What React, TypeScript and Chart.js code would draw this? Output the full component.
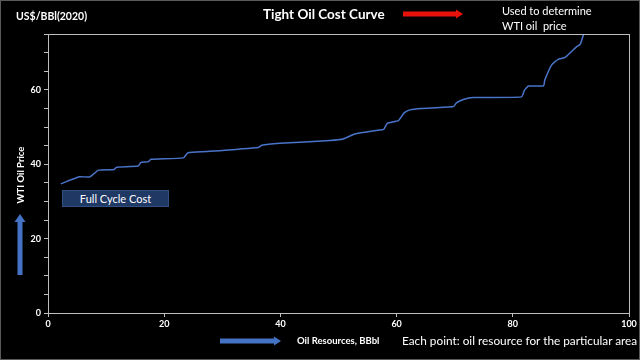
import React, { useEffect, useRef } from "react";
import { Chart, registerables } from "chart.js";

Chart.register(...registerables);

// Oil resources (BBbl) along the cost curve
const resources = [
  2.2, 5.4, 7.2, 8.7, 11.4, 11.8, 15.5, 16.0, 17.3, 17.7, 23.3, 24.1, 27.3,
  36.2, 36.8, 39.9, 48.5, 50.8, 52.8, 57.1, 57.8, 58.4, 60.3, 61.3, 62.3,
  64.3, 69.8, 70.3, 71.5, 73.2, 81.5, 82.0, 82.7, 85.3, 85.5, 86.7, 87.8,
  89.0, 91.0, 91.6, 92.2, 93.0,
];
// Full cycle cost, US$/BBl (2020)
const costs = [
  34.7, 36.6, 36.6, 38.4, 38.6, 39.2, 39.5, 40.5, 40.7, 41.3, 41.7, 43.1, 43.4,
  44.5, 45.1, 45.6, 46.4, 46.8, 48.1, 49.2, 49.4, 51.0, 51.7, 53.8, 54.6,
  55.0, 55.5, 56.5, 57.4, 57.9, 58.1, 59.9, 61.0, 61.1, 62.6, 66.7, 68.2,
  68.7, 71.6, 72.2, 75.0, 79.0,
];
const xTicksMax = 100;
const yTicksMax = 75;

const FONT = "Lato, 'Open Sans', sans-serif";

const framePlugin = {
  id: "frame",
  afterDraw(chart: any) {
    const { ctx, chartArea } = chart;
    ctx.save();
    ctx.strokeStyle = "#bfbfbf";
    ctx.lineWidth = 1;
    ctx.strokeRect(
      Math.round(chartArea.left) + 0.5,
      Math.round(chartArea.top) + 0.5,
      Math.round(chartArea.right - chartArea.left),
      Math.round(chartArea.bottom - chartArea.top)
    );
    ctx.restore();
  },
};

function Arrow({ x1, x2, y, w, head, color }: any) {
  const hw = head;
  return (
    <svg
      style={{ position: "absolute", left: 0, top: 0, overflow: "visible" }}
      width={640}
      height={360}
    >
      <polygon
        points={`${x1},${y - w / 2} ${x2 - hw},${y - w / 2} ${x2 - hw},${y - hw / 2 - 1} ${x2},${y} ${x2 - hw},${y + hw / 2 + 1} ${x2 - hw},${y + w / 2} ${x1},${y + w / 2}`}
        fill={color}
      />
    </svg>
  );
}

export default function App() {
  const ref = useRef<HTMLCanvasElement>(null);

  useEffect(() => {
    if (!ref.current) return;
    const data = resources.map((x, i) => ({ x, y: costs[i] }));
    const chart = new Chart(ref.current, {
      type: "line",
      data: {
        datasets: [
          {
            data,
            borderColor: "#4a74c9",
            borderWidth: 1.5,
            pointRadius: 0,
            tension: 0.15,
            fill: false,
          },
        ],
      },
      options: {
        animation: false,
        responsive: false,
        devicePixelRatio: 1,
        layout: { padding: { top: 34, right: 11, left: 0, bottom: 0 } },
        plugins: {
          legend: { display: false },
          tooltip: { enabled: false },
        },
        scales: {
          x: {
            type: "linear",
            min: 0,
            max: xTicksMax,
            ticks: {
              stepSize: 20,
              color: "#ffffff",
              font: { family: FONT, size: 9, weight: "bold" },
              padding: 2,
              maxRotation: 0,
            },
            grid: {
              drawOnChartArea: false,
              drawTicks: true,
              tickLength: 4,
              color: "#bfbfbf",
            },
            border: { color: "#bfbfbf" },
            afterFit: (s: any) => {
              s.height = 47;
            },
          },
          y: {
            type: "linear",
            min: 0,
            max: yTicksMax,
            ticks: {
              stepSize: 5,
              color: "#ffffff",
              font: { family: FONT, size: 9, weight: "bold" },
              padding: 3,
              callback: (v: any) => (v % 20 === 0 ? String(v) : ""),
            },
            grid: {
              drawOnChartArea: false,
              drawTicks: true,
              tickLength: 4,
              color: "#bfbfbf",
            },
            border: { color: "#bfbfbf" },
            afterFit: (s: any) => {
              s.width = 48;
            },
          },
        },
      },
      plugins: [framePlugin],
    });
    return () => chart.destroy();
  }, []);

  const txt = (style: any) => ({
    position: "absolute" as const,
    color: "#ffffff",
    fontFamily: FONT,
    whiteSpace: "nowrap" as const,
    lineHeight: 1,
    ...style,
  });

  return (
    <div
      style={{
        position: "fixed",
        left: 0,
        top: 0,
        width: 640,
        height: 360,
        background: "#000000",
        overflow: "hidden",
      }}
    >
      <canvas
        ref={ref}
        width={640}
        height={360}
        style={{ position: "absolute", left: 0, top: 0, width: 640, height: 360 }}
      />
      <div style={txt({ left: 16, top: 11, fontSize: 10.5, fontWeight: 700 })}>
        US$/BBl(2020)
      </div>
      <div style={txt({ left: 263, top: 8, fontSize: 13.5, fontWeight: 700 })}>
        Tight Oil Cost Curve
      </div>
      <Arrow x1={403} x2={463} y={14} w={5} head={7} color="#e8120c" />
      <div style={txt({ left: 502, top: 5, fontSize: 11 })}>Used to determine</div>
      <div style={txt({ left: 502, top: 20, fontSize: 11 })}>
        WTI oil&nbsp; price
      </div>
      <div
        style={txt({
          left: 21,
          top: 175,
          fontSize: 9.5,
          fontWeight: 700,
          transform: "translate(-50%, -50%) rotate(-90deg)",
        })}
      >
        WTI Oil Price
      </div>
      <svg
        style={{ position: "absolute", left: 0, top: 0 }}
        width={640}
        height={360}
      >
        <polygon
          points="17.5,275 22.5,275 22.5,222 25.5,222 20,214 14.5,222 17.5,222"
          fill="#4472c4"
        />
      </svg>
      <div
        style={{
          position: "absolute",
          left: 62,
          top: 190,
          width: 107,
          height: 17,
          boxSizing: "border-box",
          background: "#203864",
          border: "1px solid #2f4f80",
          color: "#ffffff",
          fontFamily: FONT,
          fontSize: 11,
          lineHeight: "15px",
          textAlign: "center",
        }}
      >
        Full Cycle Cost
      </div>
      <Arrow x1={220} x2={281} y={341} w={5} head={7} color="#4472c4" />
      <div style={txt({ left: 297, top: 336, fontSize: 9.5, fontWeight: 700 })}>
        Oil Resources, BBbl
      </div>
      <div style={txt({ left: 402, top: 334.5, fontSize: 11.8 })}>
        Each point: oil resource for the particular area
      </div>
      <div
        style={{
          position: "absolute",
          left: 0,
          top: 0,
          width: 640,
          height: 360,
          boxSizing: "border-box",
          border: "1px solid #5a5a5a",
          pointerEvents: "none",
        }}
      />
    </div>
  );
}
